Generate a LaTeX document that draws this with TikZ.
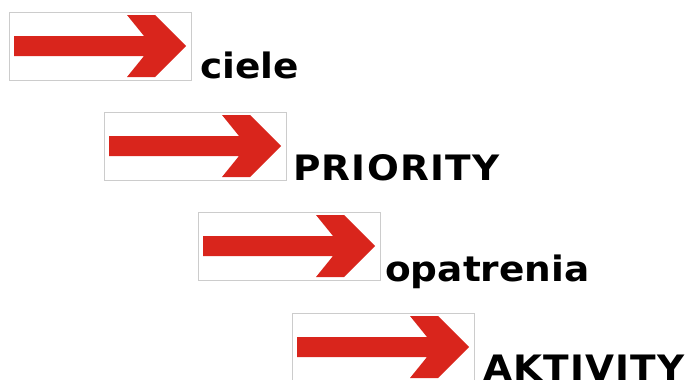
\documentclass[tikz,border=0pt]{standalone}
\usepackage{fontspec}
\newfontfamily\labfont[FakeStretch=1.07]{DejaVu Sans}
\newfontfamily\capfont[FakeStretch=1.07,LetterSpace=3.5]{DejaVu Sans}
\definecolor{boxgray}{HTML}{CCCCCC}
\definecolor{arrowred}{HTML}{D9251C}
\begin{document}
\begin{tikzpicture}[x=1pt,y=-1pt,
  box/.style={draw=boxgray,line width=0.8pt,minimum width=182pt,minimum height=68pt,inner sep=0pt,outer sep=0pt,anchor=north west},
  word/.style={font=\labfont\bfseries\fontsize{35}{42}\selectfont,anchor=base west,inner sep=0pt,text=black},
  capword/.style={word,font=\capfont\bfseries\fontsize{35}{42}\selectfont}]
\useasboundingbox (0,0) rectangle (686,380);
\foreach \n/\bx/\by/\tx/\ty/\t/\s in {1/9/12/200/78/ciele/word, 2/104/112/293/180/PRIORITY/capword, 3/198/212/385/281/opatrenia/word, 4/292/313/483/380/AKTIVITY/capword}{
  \node[box] (b\n) at (\bx,\by) {};
  \begin{scope}[shift={(b\n.north west)}]
    \fill[arrowred] (5,24) -- (135,24) -- (118,3) -- (146,3) -- (177,34) -- (146,65) -- (118,65) -- (135,44) -- (5,44) -- cycle;
  \end{scope}
  \node[\s] (w\n) at (\tx,\ty) {\t};
}
\end{tikzpicture}
\end{document}
